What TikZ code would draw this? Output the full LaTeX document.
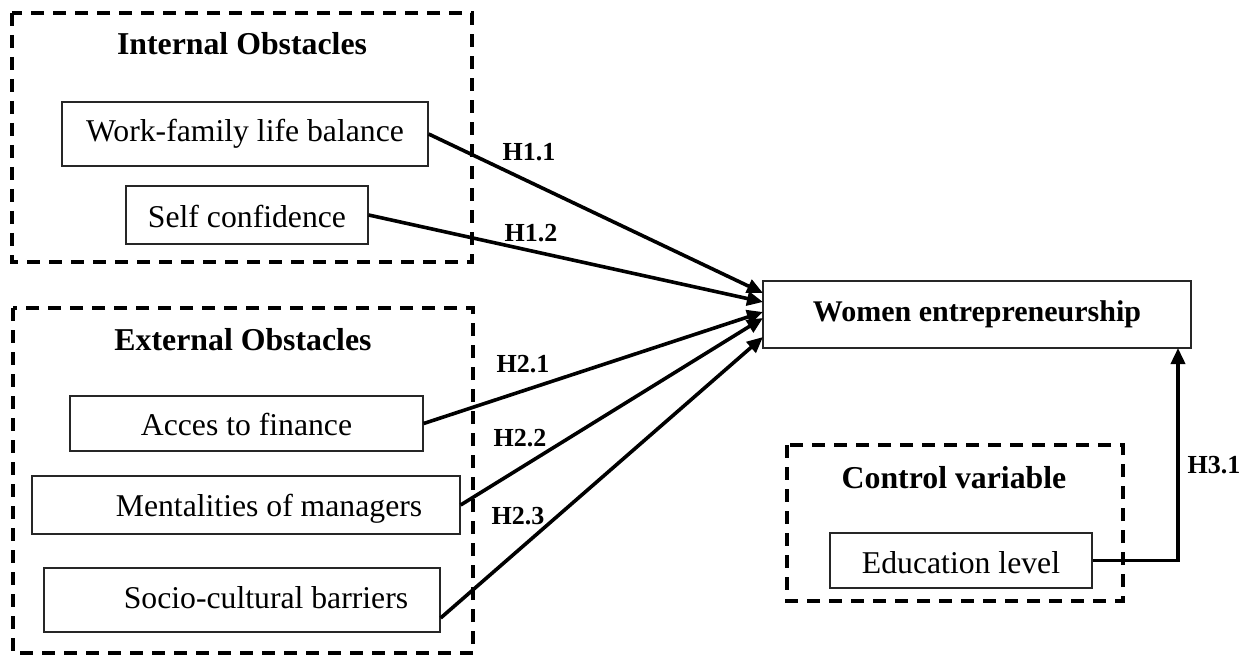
\documentclass[tikz,border=0pt]{standalone}
\usepackage{fontspec}
\setmainfont{Liberation Serif}
\usetikzlibrary{arrows.meta}
\begin{document}
\begin{tikzpicture}[x=1pt,y=-1pt,
  box/.style={draw=black!85, line width=1.3pt, inner sep=0pt, anchor=base,
    font=\fontsize{31.7}{36}\selectfont},
  grp/.style={draw, line width=3.6pt, dash pattern=on 13pt off 9pt},
  ttl/.style={font=\fontsize{31.8}{36}\selectfont\bfseries, anchor=base, inner sep=0pt},
  hyp/.style={font=\fontsize{26}{30}\selectfont\bfseries, anchor=base, inner sep=0pt},
  arr/.style={line width=3.6pt, -{Triangle[length=16pt,width=14pt]}}]
\useasboundingbox (0,0) rectangle (1250,655);

% groups
\draw[grp] (12,13) rectangle (472,262);
\draw[grp] (13,308) rectangle (473,653);
\draw[grp] (787,445) rectangle (1123,601);

% titles
\node[ttl] (tin) at (242,55) {Internal Obstacles};
\node[ttl] (tex) at (243,350) {External Obstacles};
\node[ttl] (tcv) at (954,488) {Control variable};

% boxes (anchor = base line; height/depth give the frame)
\node[box, minimum width=366pt, text height=40pt, text depth=24pt] (wf) at (245,142) {Work-family life balance};
\node[box, minimum width=242pt, text height=41pt, text depth=17pt] (sc) at (247,227) {Self confidence};
\node[box, minimum width=353pt, text height=39pt, text depth=16pt] (af) at (246.5,435) {Acces to finance};
\node[box, minimum width=428pt, text height=40pt, text depth=18pt] (mm) at (246,516) {\hspace*{46pt}Mentalities of managers};
\node[box, minimum width=396pt, text height=40pt, text depth=24pt] (sb) at (242,608) {\hspace*{48pt}Socio-cultural barriers};
\node[box, minimum width=428pt, text height=40pt, text depth=27pt, font=\fontsize{30}{34}\selectfont\bfseries] (we) at (977,321) {Women entrepreneurship};
\node[box, minimum width=262pt, text height=40pt, text depth=15pt] (ed) at (961,573) {Education level};

% arrow end points on the target box
\coordinate (e1) at (763,293);
\coordinate (e2) at (763,302);
\coordinate (e3) at (763,312);
\coordinate (e4) at (763,318);
\coordinate (e5) at (763,337);
\coordinate (t3) at (1178,348);

\draw[arr] (wf.east) -- (e1);
\draw[arr] (sc.east) -- (e2);
\draw[arr] (af.east) -- (e3);
\draw[arr] (mm.east) -- (e4);
\draw[arr] ([yshift=-18pt]sb.east) -- (e5);
\draw[arr] (ed.east) -| (t3);

% labels
\node[hyp] (l11) at (529,161) {H1.1};
\node[hyp] (l12) at (531,241) {H1.2};
\node[hyp] (l21) at (523,372) {H2.1};
\node[hyp] (l22) at (520,446) {H2.2};
\node[hyp] (l23) at (518,524) {H2.3};
\node[hyp] (l31) at (1214,473) {H3.1};
\end{tikzpicture}
\end{document}
